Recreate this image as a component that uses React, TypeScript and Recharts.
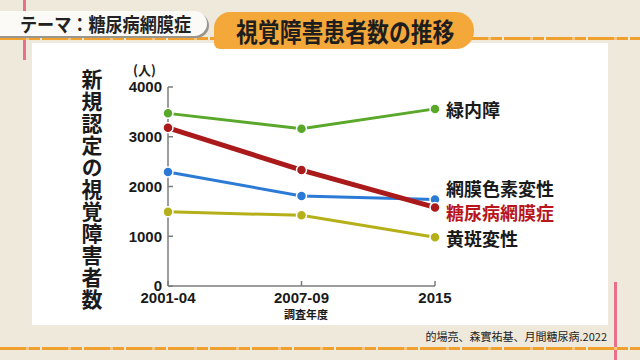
import React from "react";
import { LineChart, Line, XAxis, YAxis } from "recharts";

// survey periods and new certifications (persons)
const periods = ["2001-04", "2007-09", "2015"];
const glaucoma = [3470, 3160, 3560];
const diabeticRetinopathy = [3180, 2330, 1580];
const retinitisPigmentosa = [2290, 1810, 1740];
const macularDegeneration = [1490, 1420, 980];
const yTicks = [0, 1000, 2000, 3000, 4000];

const SERIES = [
  { key: "glaucoma", name: "緑内障", data: glaucoma, color: "#5aa82a", width: 3, dy: 0, text: "#1a1a1a" },
  { key: "rp", name: "網膜色素変性", data: retinitisPigmentosa, color: "#2b7bd6", width: 3, dy: -11, text: "#1a1a1a" },
  { key: "dr", name: "糖尿病網膜症", data: diabeticRetinopathy, color: "#ab1a1a", width: 5, dy: 5, text: "#b8161c" },
  { key: "amd", name: "黄斑変性", data: macularDegeneration, color: "#b5b01a", width: 3, dy: 1, text: "#1a1a1a" },
];

const chartData = periods.map((p, i) => {
  const row: Record<string, any> = { period: p };
  SERIES.forEach((s) => {
    row[s.key] = s.data[i];
  });
  return row;
});

const FONT = '"Noto Sans CJK JP", "Noto Sans", sans-serif';
const NUM_FONT = '"Liberation Sans", Arial, sans-serif';

const Dot = (color: string) => (props: any) => {
  const { cx, cy, index } = props;
  if (cx == null || cy == null) return null;
  return <circle key={index} cx={cx} cy={cy} r={5} fill={color} stroke="#fff" strokeWidth={1.5} />;
};

const EndLabel = (name: string, color: string, dy: number) => (props: any) => {
  const { x, y, index } = props;
  if (index !== periods.length - 1) return null;
  return (
    <text
      x={x + 11}
      y={y + dy}
      dominantBaseline="central"
      fontSize={18}
      fontWeight={700}
      fontFamily={FONT}
      fill={color}
    >
      {name}
    </text>
  );
};

const dashLine: React.CSSProperties = {
  position: "absolute",
  left: 0,
  width: 640,
  height: 3,
  background: "repeating-linear-gradient(90deg, #f0a02e 0 26px, #f6c47a 26px 29px, #f0a02e 29px 40px, #efe9dc 40px 42px)",
};

export default function App() {
  return (
    <div
      style={{
        position: "absolute",
        left: 0,
        top: 0,
        width: 640,
        height: 360,
        overflow: "hidden",
        background: "#efe9dc",
        fontFamily: FONT,
      }}
    >
      {/* decorative lines */}
      <div style={{ position: "absolute", left: 23, top: 0, width: 3, height: 60, background: "#e8708a" }} />
      <div style={{ position: "absolute", left: 614, top: 282, width: 3, height: 78, background: "#e8708a" }} />
      <div style={{ ...dashLine, top: 37 }} />
      <div style={{ ...dashLine, top: 347 }} />

      {/* white panel */}
      <div style={{ position: "absolute", left: 32, top: 43, width: 576, height: 282, background: "#ffffff" }} />

      {/* title pills */}
      <div
        style={{
          position: "absolute",
          left: -20,
          top: 11,
          width: 227,
          height: 25,
          background: "#fbfaf6",
          borderRadius: "0 14px 14px 0",
          boxShadow: "2px 2px 0 #9a968e",
        }}
      />
      <div
        style={{
          position: "absolute",
          left: 20,
          top: 11,
          height: 25,
          lineHeight: "25px",
          fontSize: 19,
          fontWeight: 700,
          color: "#222",
          whiteSpace: "nowrap",
          transform: "scaleX(0.9)",
          transformOrigin: "left center",
        }}
      >
        テーマ：糖尿病網膜症
      </div>
      <div
        style={{
          position: "absolute",
          left: 214,
          top: 12,
          width: 260,
          height: 37,
          background: "#f5a83a",
          borderRadius: "16px 18px 18px 6px",
        }}
      />
      <div
        style={{
          position: "absolute",
          left: 236,
          top: 12,
          height: 37,
          lineHeight: "37px",
          fontSize: 26,
          fontWeight: 700,
          color: "#1e1e1e",
          whiteSpace: "nowrap",
          transform: "scaleX(0.84)",
          transformOrigin: "left center",
        }}
      >
        視覚障害患者数の推移
      </div>

      {/* vertical y-axis title */}
      <div
        style={{
          position: "absolute",
          left: 80,
          top: 69,
          writingMode: "vertical-rl",
          fontSize: 21,
          fontWeight: 700,
          letterSpacing: 1,
          lineHeight: "23px",
          color: "#1a1a1a",
        }}
      >
        新規認定の視覚障害者数
      </div>
      <div style={{ position: "absolute", left: 133, top: 62, fontSize: 13, fontWeight: 700, color: "#222", lineHeight: "16px" }}>
        (人)
      </div>

      <div style={{ position: "absolute", left: 0, top: 0 }}>
        <LineChart width={640} height={360} data={chartData} margin={{ top: 87, right: 205, left: 0, bottom: 44 }}>
          <XAxis
            dataKey="period"
            scale="point"
            padding={{ left: 0, right: 0 }}
            height={30}
            stroke="#7d7d7d"
            strokeWidth={1.5}
            tickSize={-5}
            tickMargin={11}
            tick={{ fill: "#1a1a1a", fontSize: 15, fontWeight: 700, fontFamily: NUM_FONT }}
          />
          <YAxis
            width={168}
            domain={[0, 4000]}
            ticks={yTicks}
            interval={0}
            stroke="#7d7d7d"
            strokeWidth={1.5}
            tickSize={-5}
            tickMargin={11}
            tick={{ fill: "#1a1a1a", fontSize: 15, fontWeight: 700, fontFamily: NUM_FONT }}
          />
          {SERIES.map((s) => (
            <Line
              key={s.key}
              dataKey={s.key}
              name={s.name}
              type="linear"
              stroke={s.color}
              strokeWidth={s.width}
              dot={Dot(s.color)}
              activeDot={false}
              label={EndLabel(s.name, s.text, s.dy)}
              isAnimationActive={false}
            />
          ))}
        </LineChart>
      </div>

      <div
        style={{
          position: "absolute",
          left: 284,
          top: 306,
          width: 36,
          textAlign: "center",
          fontSize: 11,
          fontWeight: 700,
          color: "#1a1a1a",
          whiteSpace: "nowrap",
        }}
      >
        調査年度
      </div>
      <div
        style={{
          position: "absolute",
          right: 33,
          top: 328,
          fontSize: 11,
          color: "#1a1a1a",
          whiteSpace: "nowrap",
        }}
      >
        的場亮、森實祐基、月間糖尿病.2022
      </div>
    </div>
  );
}
